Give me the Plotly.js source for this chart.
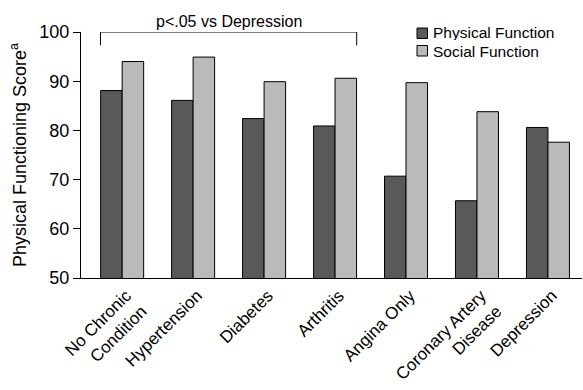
<!DOCTYPE html>
<html>
<head>
<meta charset="utf-8">
<script src="https://cdn.plot.ly/plotly-3.0.1.min.js"></script>
<style>html,body{margin:0;padding:0;background:#fff;}#chart{width:583px;height:390px;}</style>
</head>
<body>
<div id="chart"></div>
<script>
const categories = ["No Chronic<br>Condition", "Hypertension", "Diabetes", "Arthritis", "Angina Only", "Coronary Artery<br>Disease", "Depression"];
const physicalFunction = [88.1, 86.1, 82.4, 80.9, 70.7, 65.7, 80.6];
const socialFunction = [94.0, 94.9, 89.9, 90.6, 89.7, 83.8, 77.6];
const seriesNames = ["Physical Function", "Social Function"];
const yTicks = [50, 60, 70, 80, 90, 100];
const bracketLabel = "p&lt;.05 vs Depression";

const FONT = "'Liberation Sans', Arial, sans-serif";
const DARK = "#595959", LIGHT = "#bababa";

const traces = [
  {type: "bar", name: seriesNames[0], x: categories, y: physicalFunction,
   marker: {color: DARK, line: {color: "#000", width: 1}}, showlegend: false},
  {type: "bar", name: seriesNames[1], x: categories, y: socialFunction,
   marker: {color: LIGHT, line: {color: "#000", width: 1}}, showlegend: false}
];

// paper coordinates helpers for legend
const L = 81, R = 1, T = 32, B = 112, W = 583, H = 390;
const px = v => (v - L) / (W - L - R);
const py = v => (H - B - v) / (H - T - B);

const layout = {
  width: W, height: H,
  margin: {l: L, r: R, t: T, b: B, pad: 0},
  paper_bgcolor: "#fff", plot_bgcolor: "#fff",
  font: {family: FONT, color: "#000", size: 16},
  barmode: "group", bargap: 0.394, bargroupgap: 0,
  showlegend: false,
  xaxis: {type: "category", range: [-0.58, 6.48], showline: true, linecolor: "#000", linewidth: 1,
          ticks: "", tickangle: -45, tickfont: {size: 17, family: FONT}, ticklabelshift: 4,
          showgrid: false, zeroline: false, fixedrange: true},
  yaxis: {range: [50, 100], tickvals: yTicks, showline: true, linecolor: "#000", linewidth: 1,
          ticks: "outside", ticklen: 7, tickcolor: "#000", tickfont: {size: 18, family: FONT},
          showgrid: false, zeroline: false,
          title: {text: "Physical Functioning Score<sup>a</sup>", font: {size: 18, family: FONT}, standoff: 8}},
  shapes: [
    {type: "line", xref: "x", yref: "y", x0: -0.305, x1: 3.305, y0: 100, y1: 100, line: {color: "#000", width: 1}},
    {type: "line", xref: "x", yref: "y", x0: -0.305, x1: -0.305, y0: 100, y1: 97.3, line: {color: "#000", width: 1}},
    {type: "line", xref: "x", yref: "y", x0: 3.305, x1: 3.305, y0: 100, y1: 97.3, line: {color: "#000", width: 1}},
    {type: "rect", xref: "paper", yref: "paper", x0: px(417), x1: px(427.5), y0: py(38.5), y1: py(28), fillcolor: DARK, line: {color: "#000", width: 1}},
    {type: "rect", xref: "paper", yref: "paper", x0: px(417), x1: px(427.5), y0: py(56), y1: py(45.5), fillcolor: LIGHT, line: {color: "#000", width: 1}}
  ],
  annotations: [
    {xref: "x", yref: "y", x: 1.5, y: 100, text: bracketLabel, showarrow: false, xanchor: "center", yanchor: "bottom", font: {size: 16, family: FONT}},
    {xref: "paper", yref: "paper", x: px(431), y: py(33), text: seriesNames[0], showarrow: false, xanchor: "left", yanchor: "middle", height: 15, font: {size: 15.5, family: FONT}},
    {xref: "paper", yref: "paper", x: px(431), y: py(51), text: seriesNames[1], showarrow: false, xanchor: "left", yanchor: "middle", height: 15, font: {size: 15.5, family: FONT}}
  ]
};

Plotly.newPlot("chart", traces, layout, {displayModeBar: false, staticPlot: true});
</script>
</body>
</html>
